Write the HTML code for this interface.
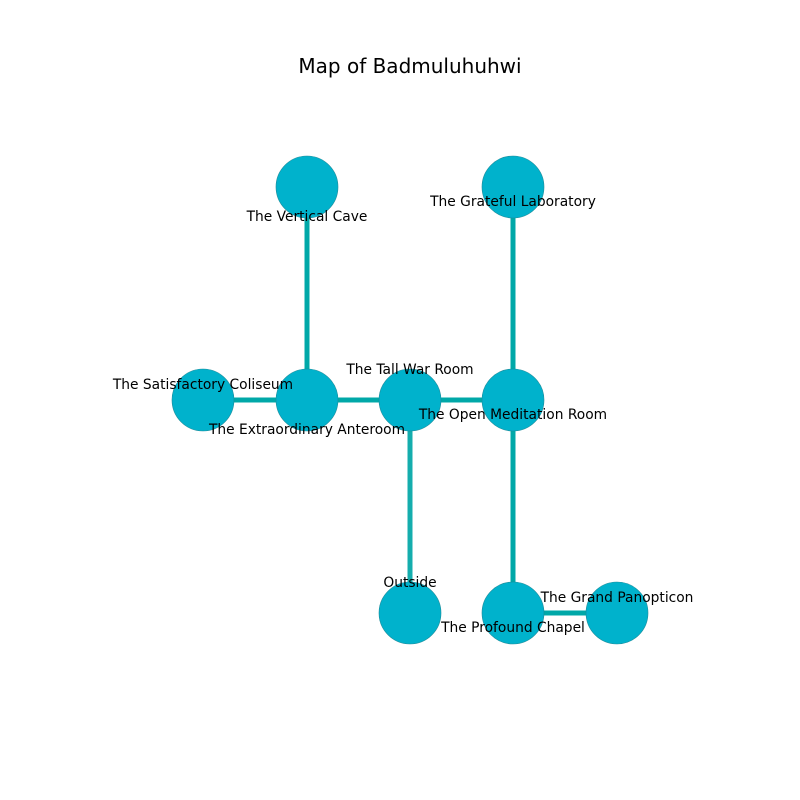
<!DOCTYPE html>
<html><head><style>
html,body{margin:0;padding:0;background:#fff;}
svg{display:block;}
text{font-family:"DejaVu Sans","Liberation Sans",sans-serif;font-size:13.8px;fill:#000;}
</style></head><body>
<svg width="800" height="800" viewBox="0 0 800 800">
<rect width="800" height="800" fill="#fff"/>
<text x="410" y="73" text-anchor="middle" style="font-size:20px">Map of Badmuluhuhwi</text>
<g stroke="#00a8a8" stroke-width="5">
<line x1="307" y1="187" x2="307" y2="400"/>
<line x1="513" y1="187" x2="513" y2="400"/>
<line x1="203" y1="400" x2="307" y2="400"/>
<line x1="307" y1="400" x2="410" y2="400"/>
<line x1="410" y1="400" x2="513" y2="400"/>
<line x1="410" y1="400" x2="410" y2="613" stroke="#14adad"/>
<line x1="513" y1="400" x2="513" y2="613"/>
<line x1="513" y1="613" x2="617" y2="613"/>
</g>
<g fill="#00b2cc" stroke="#1a8a99" stroke-width="0.6">
<circle cx="307" cy="187" r="31"/>
<circle cx="513" cy="187" r="31"/>
<circle cx="203" cy="400" r="31"/>
<circle cx="307" cy="400" r="31"/>
<circle cx="410" cy="400" r="31"/>
<circle cx="513" cy="400" r="31"/>
<circle cx="410" cy="613" r="31"/>
<circle cx="513" cy="613" r="31"/>
<circle cx="617" cy="613" r="31"/>
</g>
<g text-anchor="middle">
<text x="307" y="221">The Vertical Cave</text>
<text x="513" y="206">The Grateful Laboratory</text>
<text x="203" y="389">The Satisfactory Coliseum</text>
<text x="307" y="434">The Extraordinary Anteroom</text>
<text x="410" y="374">The Tall War Room</text>
<text x="513" y="419">The Open Meditation Room</text>
<text x="410" y="587">Outside</text>
<text x="513" y="632">The Profound Chapel</text>
<text x="617" y="602">The Grand Panopticon</text>
</g>
</svg>
</body></html>
